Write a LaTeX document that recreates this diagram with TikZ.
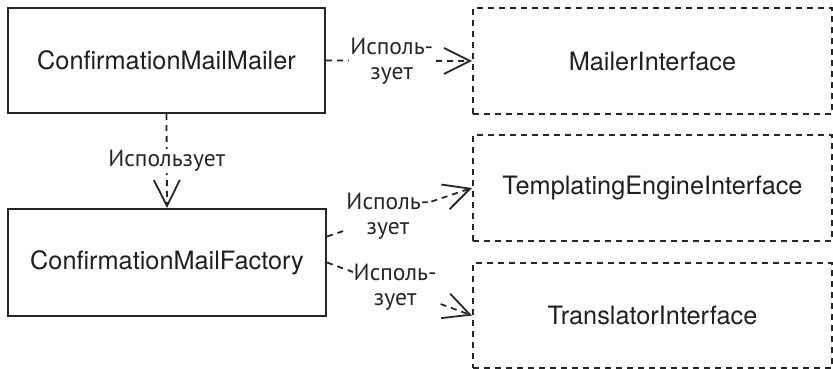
\documentclass[tikz,border=0pt]{standalone}
\usepackage{fontspec}
\setmainfont{TeX Gyre Heros}
\newfontfamily\labelfont{PT Sans}
\usetikzlibrary{arrows.meta,calc}

\tikzset{
  cls/.style={draw=black!85, line width=2pt, rectangle, anchor=north west,
    inner sep=0pt, font=\fontsize{25.3}{28}\selectfont, text=black!88},
  iface/.style={cls, dash pattern=on 6pt off 5pt},
  uses/.style={draw=black!85, line width=1.8pt, dash pattern=on 6pt off 5pt,
    -{Straight Barb[length=26pt, width=26pt, line width=1.8pt]}},
  usetext/.style={fill=white, inner sep=1pt, align=center, text=black!85,
    font=\labelfont\fontsize{23.5}{25}\selectfont}
}

\begin{document}
\begin{tikzpicture}[x=1pt, y=-1pt]
  \useasboundingbox (0,0) rectangle (833,369);

  % classes
  \node[cls, minimum width=317pt, minimum height=105pt] (mailer) at (7,7) {ConfirmationMailMailer};
  \node[cls, minimum width=318pt, minimum height=107pt] (factory) at (7,208) {ConfirmationMailFactory};

  % interfaces
  \node[iface, minimum width=359pt, minimum height=106pt] (mailif) at (472,7) {MailerInterface};
  \node[iface, minimum width=359pt, minimum height=106pt] (tplif) at (472,134) {TemplatingEngineInterface};
  \node[iface, minimum width=359pt, minimum height=105pt] (trif) at (472,262) {TranslatorInterface};

  % dependencies
  \draw[uses] (mailer.east) -- node[usetext, pos=0.45] {Исполь-\\зует} (mailif.west);
  \draw[uses] (mailer.south) -- node[usetext] {Использует} (factory.north);
  \draw[uses] ($(factory.east)+(0,-26)$) -- node[usetext, pos=0.42] {Исполь-\\зует} (tplif.west);
  \draw[uses] (factory.east) -- node[usetext, pos=0.47] {Исполь-\\зует} (trif.west);
\end{tikzpicture}
\end{document}
